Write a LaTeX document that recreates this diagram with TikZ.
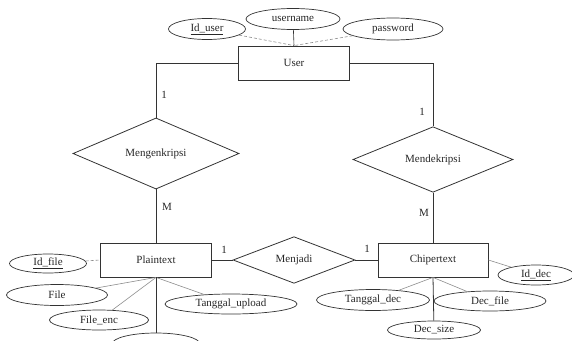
\documentclass[tikz,border=0pt]{standalone}
\usepackage{fontspec}
\setmainfont{Liberation Serif}
\usetikzlibrary{shapes.geometric}
\begin{document}
\begin{tikzpicture}[x=1pt,y=-1pt,
  every node/.style={font=\fontsize{11}{13}\selectfont, text=black!85},
  entity/.style={draw=black!80, line width=0.8pt, rectangle, minimum width=111pt, minimum height=34pt, inner sep=0pt},
  rel/.style={draw=black!80, line width=0.8pt, diamond, inner sep=0pt},
  attr/.style={draw=black!80, line width=0.7pt, ellipse, inner sep=0pt},
  link/.style={draw=black!80, line width=0.8pt},
  alink/.style={draw=black!45, line width=0.6pt},
  dlink/.style={draw=black!45, line width=0.6pt, dash pattern=on 3pt off 2pt},
  card/.style={inner sep=0pt}]
\useasboundingbox (0,0) rectangle (572,340);
\clip (0,0) rectangle (572,340);
% entities
\node[entity] (user) at (294,63) {User};
\node[entity] (plain) at (156,260) {Plaintext};
\node[entity, minimum width=110pt] (chiper) at (433,260) {Chipertext};
% relationships
\node[rel, minimum width=166pt, minimum height=63pt] (meng) at (156,153.5) {Mengenkripsi};
\node[rel, minimum width=160pt, minimum height=63pt] (mend) at (433,159.5) {Mendekripsi};
\node[rel, minimum width=122pt, minimum height=40pt] (menj) at (294,260) {Menjadi};
% attributes
\node[attr, minimum width=77pt, minimum height=21pt] (iduser) at (207,29) {\underline{Id\_user}};
\node[attr, minimum width=94pt, minimum height=21pt] (username) at (293,19) {username};
\node[attr, minimum width=100pt, minimum height=22pt] (password) at (393,29) {password};
\node[attr, minimum width=77pt, minimum height=19pt] (idfile) at (48,263.5) {\underline{Id\_file}};
\node[attr, minimum width=101pt, minimum height=21pt] (file) at (57,295) {File};
\node[attr, minimum width=99pt, minimum height=20pt] (fileenc) at (99,320) {File\_enc};
\node[attr, minimum width=132pt, minimum height=20pt] (tup) at (231,304) {Tanggal\_upload};
\node[attr, minimum width=88pt, minimum height=22pt] (fsize) at (156,344) {};
\node[attr, minimum width=76pt, minimum height=20pt] (iddec) at (536,275) {\underline{Id\_dec}};
\node[attr, minimum width=113pt, minimum height=21pt] (tdec) at (373,300) {Tanggal\_dec};
\node[attr, minimum width=112pt, minimum height=20pt] (decfile) at (490,301) {Dec\_file};
\node[attr, minimum width=93pt, minimum height=18pt] (decsize) at (434,330) {Dec\_size};
% relationship connectors
\draw[link] (user.west) -| (meng.north);
\draw[link] (user.east) -| (mend.north);
\draw[link] (meng.south) -- (plain.north);
\draw[link] (mend.south) -- (chiper.north);
\draw[link] (plain.east) -- (menj.west);
\draw[link] (menj.east) -- (chiper.west);
% cardinalities
\node[card] (c1) at (164,95) {1};
\node[card] (c2) at (167,207) {M};
\node[card] (c3) at (422,112) {1};
\node[card] (c4) at (424,213) {M};
\node[card] (c5) at (224,250) {1};
\node[card] (c6) at (367,249) {1};
% attribute connectors
\draw[dlink] (iduser) -- (user.north);
\draw[link, line width=0.6pt] (username) -- (user.north);
\draw[dlink] (password) -- (user.north);
\draw[dlink] (idfile) -- (plain.west);
\draw[alink] (file) -- (plain.south);
\draw[alink] (fileenc) -- (plain.south);
\draw[alink] (tup) -- (plain.south);
\draw[link] (plain.south) -- (fsize);
\draw[alink] (chiper.east) -- (iddec);
\draw[alink] (tdec) -- (chiper.south);
\draw[alink] (decfile) -- (chiper.south);
\draw[link] (chiper.south) -- (decsize);
\end{tikzpicture}
\end{document}
